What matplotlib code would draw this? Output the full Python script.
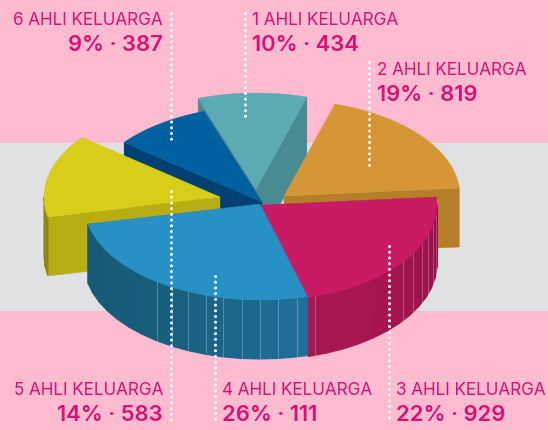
import numpy as np
import matplotlib
matplotlib.use('Agg')
import matplotlib.pyplot as plt
from matplotlib.colors import to_rgb
from matplotlib.patches import Polygon, Rectangle

# data, clockwise from the teal slice
kategori = ['1 AHLI KELUARGA', '2 AHLI KELUARGA', '3 AHLI KELUARGA',
            '4 AHLI KELUARGA', '5 AHLI KELUARGA', '6 AHLI KELUARGA']
persen = [10, 19, 22, 26, 14, 9]
jumlah = [434, 819, 929, 111, 583, 387]

warna_atas = ['#5AABB3', '#D79635', '#C81B63', '#2790C4', '#D8CD18', '#0061A0']
warna_sisi = ['#498B92', '#B57F28', '#A81650', '#165A76', '#B8AE14', '#004072']
warna_busur = ['#498B92', '#B57F28', '#A81650', '#165A76', '#8E8610', '#004072']
warna_busur2 = ['#498B92', '#B57F28', '#8F1048', '#1F7099', '#8E8610', '#004072']

# slice tips, in pixels
tip = [(256, 189), (284, 196), (261, 205), (260, 204), (220, 197), (262, 202)]
urutan = [0, 5, 1, 4, 2, 3]  # back to front

rx = 176
ry = 96
tebal = 59
sudut_mulai = 109.2

PINK = '#FFBBD0'
ABU = '#E0E1E3'
TEKS = '#DC0F72'

plt.rcParams['font.family'] = ['Inter', 'DejaVu Sans']

fig = plt.figure(figsize=(5.48, 4.30), dpi=100)
ax = fig.add_axes([0, 0, 1, 1])
ax.set_xlim(0, 548)
ax.set_ylim(430, 0)
ax.axis('off')

ax.add_patch(Rectangle((0, 0), 548, 430, fc=PINK, ec='none', zorder=0))
ax.add_patch(Rectangle((0, 143), 548, 168, fc=ABU, ec='none', zorder=0))


def titik(t, a):
    a = np.radians(a)
    return t[0] + rx * np.cos(a), t[1] - ry * np.sin(a)


def sisi_radial(t, a, warna):
    x, y = titik(t, a)
    pts = [t, (x, y), (x, y + tebal), (t[0], t[1] + tebal)]
    ax.add_patch(Polygon(pts, fc=warna, ec=warna, lw=0.3))


def sisi_busur(t, a_hi, a_lo, warna1, warna2):
    # only the part of the rim that faces the viewer, in facets
    if a_hi > 360:
        a_lo2, a_hi2 = a_lo, 360
    else:
        a_lo2, a_hi2 = max(a_lo, 180), a_hi
    if a_hi2 <= a_lo2:
        return
    sudut = np.arange(a_lo2, a_hi2, 6.0).tolist() + [a_hi2]
    c1 = np.array(to_rgb(warna1))
    c2 = np.array(to_rgb(warna2))
    for i in range(len(sudut) - 1):
        x0, y0 = titik(t, sudut[i])
        x1, y1 = titik(t, sudut[i + 1])
        f = (i / max(len(sudut) - 2, 1)) ** 2
        c = c1 + (c2 - c1) * f
        pts = [(x0, y0), (x1, y1), (x1, y1 + tebal), (x0, y0 + tebal)]
        ax.add_patch(Polygon(pts, fc=c, ec=c, lw=0.8))


batas = sudut_mulai - np.cumsum([0] + persen) * 3.6
for i in urutan:
    a_hi = batas[i]
    a_lo = batas[i + 1]
    if a_lo < 0:
        a_hi += 360
        a_lo += 360
    t = tip[i]
    if np.cos(np.radians(a_hi)) < 0:
        sisi_radial(t, a_hi, warna_sisi[i])
    if np.cos(np.radians(a_lo)) > 0:
        sisi_radial(t, a_lo, warna_sisi[i])
    sisi_busur(t, a_hi, a_lo, warna_busur[i], warna_busur2[i])
    if a_lo >= 180 or a_hi > 360:
        # thin facet lines on the front rim
        mulai = np.ceil(max(a_lo, 180) / 6) * 6
        for a in np.arange(mulai, min(a_hi, 360), 6):
            if a < 234 or 282 < a < 288 or 288 < a < 324:
                continue
            x, y = titik(t, a)
            ax.plot([x, x], [y, y + tebal], color='white', alpha=0.3, lw=0.6)
    aa = np.linspace(a_lo, a_hi, 80)
    xa, ya = titik(t, aa)
    pts = [t] + list(zip(xa, ya))
    ax.add_patch(Polygon(pts, fc=warna_atas[i], ec=warna_atas[i], lw=0.3))

# dotted leader lines
garis = [(171, 13, 142), (245, 13, 117), (369, 62, 167),
         (389, 246, 422), (215, 276, 423), (171, 191, 425)]
for x, y0, y1 in garis:
    ax.plot([x, x], [y0, y1], color='white', lw=2.2,
            linestyle=(0, (0.01, 1.86)), dash_capstyle='round')

# labels: x, y of the thin line, y of the bold line, alignment
posisi = [(252, 20.5, 45, 'left'), (377, 70.5, 95, 'left'), (396, 390.5, 415, 'left'),
          (222, 390.5, 415, 'left'), (163, 390.5, 415, 'right'), (163, 20.5, 45, 'right')]
for i in range(6):
    x, y1, y2, ha = posisi[i]
    ax.text(x, y1, kategori[i], color=TEKS, fontsize=12.3, ha=ha, va='center')
    ax.text(x, y2, '%d%% · %d' % (persen[i], jumlah[i]), color=TEKS, fontsize=15.8,
            fontweight='semibold', ha=ha, va='center')

fig.savefig('out.png', dpi=100)
